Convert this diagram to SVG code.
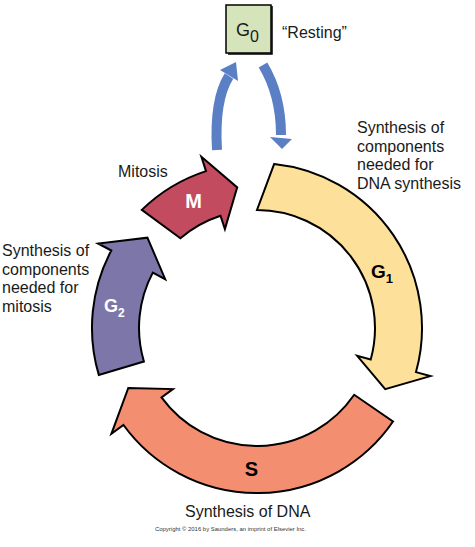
<svg xmlns="http://www.w3.org/2000/svg" width="475" height="547" viewBox="0 0 475 547">
<style>
.phase{stroke:#000;stroke-width:2;stroke-linejoin:miter}
.lbl{font-family:"Liberation Sans",Arial,sans-serif;font-size:16px;fill:#1a1a1a}
.big{font-family:"Liberation Sans",Arial,sans-serif;font-weight:bold}
.blue{fill:none;stroke:#5B7FC4;stroke-width:10}
.bluehead{fill:#5B7FC4}
</style>
<rect width="475" height="547" fill="#fff"/>
<g id="G0">
<rect x="226" y="5" width="45" height="48" fill="#D6E4BC" stroke="#000" stroke-width="1.5"/>
<path d="M271,6 V54 H227" fill="none" stroke="#000" stroke-width="1.5" transform="translate(1,0)"/>
<text x="236" y="36" font-family="Liberation Sans,Arial,sans-serif" font-size="18" fill="#1a1a1a">G<tspan font-size="16" dy="6">0</tspan></text>
<text class="lbl" x="282" y="38">“Resting”</text>
</g>
<g id="connectors">
<path class="blue" d="M217,150 Q214,100 229,76"/>
<polygon class="bluehead" points="220,70 238,81 236,62"/>
<path class="blue" d="M263,65 Q281,95 281,135"/>
<polygon class="bluehead" points="270,137 292,139 282,149"/>
</g>
<g id="G1">
<path class="phase" fill="#FDE19B" d="M274.2,163.9 A165,165 0 0 1 416.0,372.1 L430.4,376.1 L385.2,389.1 L357.2,355.8 L370.7,359.5 A118,118 0 0 0 257,210 Z"/>
<text class="big" x="371" y="278" font-size="19" fill="#000">G<tspan font-size="13" dy="5">1</tspan></text>
<text class="lbl" x="357" y="133">Synthesis of</text>
<text class="lbl" x="357" y="151.5">components</text>
<text class="lbl" x="357" y="170">needed for</text>
<text class="lbl" x="357" y="188.5">DNA synthesis</text>
</g>
<g id="S">
<path class="phase" fill="#F38E70" d="M393.0,421.5 A165,165 0 0 1 123.5,425.0 L111.4,433.8 L128.3,388.0 L172.9,389.1 L161.5,397.4 A118,118 0 0 0 354.2,394.8 Z"/>
<text class="big" x="251.5" y="476" font-size="20" fill="#000" text-anchor="middle">S</text>
<text class="lbl" x="185" y="517">Synthesis of DNA</text>
</g>
<g id="G2">
<path class="phase" fill="#7D77A9" d="M98.8,374.9 A165,165 0 0 1 111.3,250.5 L98.1,243.5 L147.4,237.7 L165.2,279.2 L152.8,272.6 A118,118 0 0 0 143.9,361.5 Z"/>
<text class="big" x="104" y="312" font-size="18" fill="#fff">G<tspan font-size="12" dy="5">2</tspan></text>
<text class="lbl" x="2" y="256">Synthesis of</text>
<text class="lbl" x="2" y="274.5">components</text>
<text class="lbl" x="2" y="293">needed for</text>
<text class="lbl" x="2" y="311.5">mitosis</text>
</g>
<g id="M">
<path class="phase" fill="#C34B60" d="M141.8,209.9 A165,165 0 0 1 206.0,171.1 L201.4,156.8 L237.2,187.4 L224.9,229.1 L220.5,215.8 A118,118 0 0 0 180.4,238.3 Z"/>
<text class="big" x="193.5" y="208" font-size="20" fill="#fff" text-anchor="middle">M</text>
<text class="lbl" x="118" y="177">Mitosis</text>
</g>
<text x="155" y="531" font-family="Liberation Sans,Arial,sans-serif" font-size="5.5" fill="#333" textLength="151" lengthAdjust="spacingAndGlyphs">Copyright © 2016 by Saunders, an imprint of Elsevier Inc.</text>
</svg>
